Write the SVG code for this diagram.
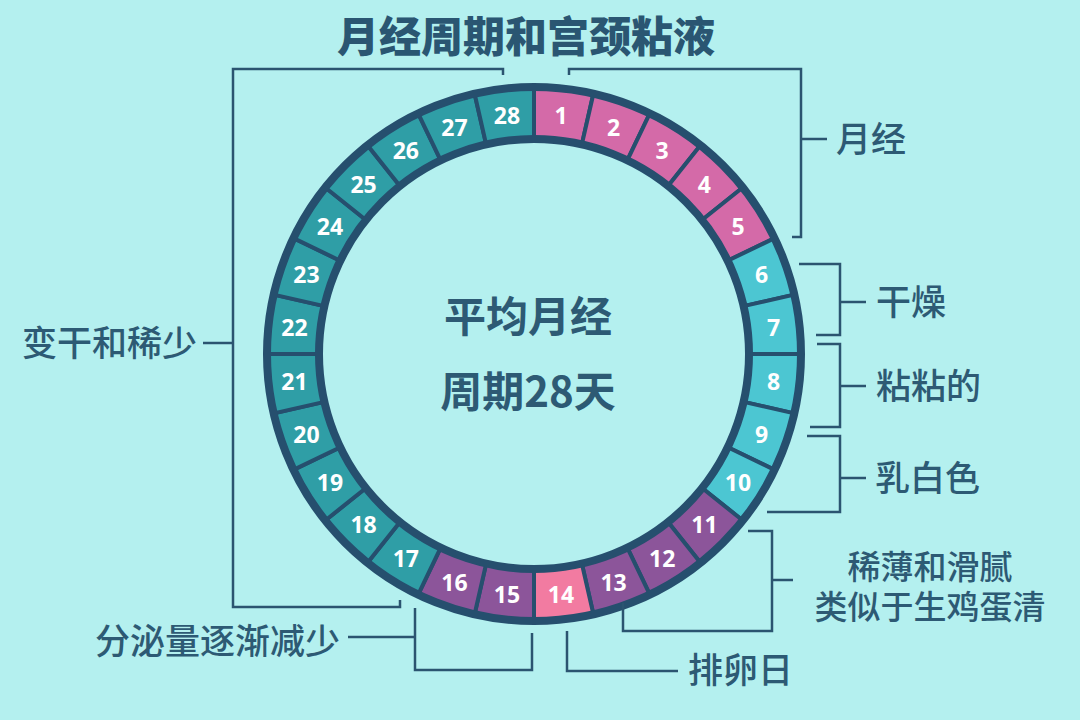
<svg xmlns="http://www.w3.org/2000/svg" width="1080" height="720" viewBox="0 0 1080 720">
<style>
.seg{stroke:#264f6e;stroke-width:4;stroke-linejoin:miter}
.pk{fill:#d46aa8}.cy{fill:#4cc6d2}.pu{fill:#8c559a}.ov{fill:#f27ba1}.tl{fill:#2f9ea6}
.num{font-family:"Open Sans","Noto Sans",sans-serif;font-weight:700;font-size:23px;fill:#ffffff;text-anchor:middle;dominant-baseline:central}
.lbl{font-family:"Noto Sans CJK SC","Noto Sans",sans-serif;font-weight:500;font-size:35px;fill:#2d5a74}
.ctr{font-family:"Noto Sans CJK SC","Noto Sans",sans-serif;font-weight:700;font-size:42px;fill:#2d5a74;text-anchor:middle}
.br{fill:none;stroke:#2b5470;stroke-width:2.5}
.rim{fill:none;stroke:#264f6e;stroke-width:8}
</style>
<rect width="1080" height="720" fill="#b4f0ef"/>
<text id="title" x="526" y="52" text-anchor="middle" style="font-family:'Noto Sans CJK SC','Noto Sans',sans-serif;font-weight:900;font-size:42px;fill:#2a5672">月经周期和宫颈粘液</text>
<g id="ring">
<g id="d1"><path class="seg pk" d="M534,87 A267,267 0 0 1 593.41,93.69 L581.84,144.39 A215,215 0 0 0 534,139 Z"/><text class="num" x="561" y="114.5">1</text></g>
<g id="d2"><path class="seg pk" d="M593.41,93.69 A267,267 0 0 1 649.85,113.44 L627.28,160.29 A215,215 0 0 0 581.84,144.39 Z"/><text class="num" x="613.6" y="126.5">2</text></g>
<g id="d3"><path class="seg pk" d="M649.85,113.44 A267,267 0 0 1 700.47,145.25 L668.05,185.91 A215,215 0 0 0 627.28,160.29 Z"/><text class="num" x="662.2" y="150">3</text></g>
<g id="d4"><path class="seg pk" d="M700.47,145.25 A267,267 0 0 1 742.75,187.53 L702.09,219.95 A215,215 0 0 0 668.05,185.91 Z"/><text class="num" x="704.4" y="183.6">4</text></g>
<g id="d5"><path class="seg pk" d="M742.75,187.53 A267,267 0 0 1 774.56,238.15 L727.71,260.72 A215,215 0 0 0 702.09,219.95 Z"/><text class="num" x="738" y="225.8">5</text></g>
<g id="d6"><path class="seg cy" d="M774.56,238.15 A267,267 0 0 1 794.31,294.59 L743.61,306.16 A215,215 0 0 0 727.71,260.72 Z"/><text class="num" x="761.5" y="274.4">6</text></g>
<g id="d7"><path class="seg cy" d="M794.31,294.59 A267,267 0 0 1 801,354 L749,354 A215,215 0 0 0 743.61,306.16 Z"/><text class="num" x="773.5" y="327">7</text></g>
<g id="d8"><path class="seg cy" d="M801,354 A267,267 0 0 1 794.31,413.41 L743.61,401.84 A215,215 0 0 0 749,354 Z"/><text class="num" x="773.5" y="381">8</text></g>
<g id="d9"><path class="seg cy" d="M794.31,413.41 A267,267 0 0 1 774.56,469.85 L727.71,447.28 A215,215 0 0 0 743.61,401.84 Z"/><text class="num" x="761.5" y="433.6">9</text></g>
<g id="d10"><path class="seg cy" d="M774.56,469.85 A267,267 0 0 1 742.75,520.47 L702.09,488.05 A215,215 0 0 0 727.71,447.28 Z"/><text class="num" x="738" y="482.2">10</text></g>
<g id="d11"><path class="seg pu" d="M742.75,520.47 A267,267 0 0 1 700.47,562.75 L668.05,522.09 A215,215 0 0 0 702.09,488.05 Z"/><text class="num" x="704.4" y="524.4">11</text></g>
<g id="d12"><path class="seg pu" d="M700.47,562.75 A267,267 0 0 1 649.85,594.56 L627.28,547.71 A215,215 0 0 0 668.05,522.09 Z"/><text class="num" x="662.2" y="558">12</text></g>
<g id="d13"><path class="seg pu" d="M649.85,594.56 A267,267 0 0 1 593.41,614.31 L581.84,563.61 A215,215 0 0 0 627.28,547.71 Z"/><text class="num" x="613.6" y="581.5">13</text></g>
<g id="d14"><path class="seg ov" d="M593.41,614.31 A267,267 0 0 1 534,621 L534,569 A215,215 0 0 0 581.84,563.61 Z"/><text class="num" x="561" y="593.5">14</text></g>
<g id="d15"><path class="seg pu" d="M534,621 A267,267 0 0 1 474.59,614.31 L486.16,563.61 A215,215 0 0 0 534,569 Z"/><text class="num" x="507" y="593.5">15</text></g>
<g id="d16"><path class="seg pu" d="M474.59,614.31 A267,267 0 0 1 418.15,594.56 L440.72,547.71 A215,215 0 0 0 486.16,563.61 Z"/><text class="num" x="454.4" y="581.5">16</text></g>
<g id="d17"><path class="seg tl" d="M418.15,594.56 A267,267 0 0 1 367.53,562.75 L399.95,522.09 A215,215 0 0 0 440.72,547.71 Z"/><text class="num" x="405.8" y="558">17</text></g>
<g id="d18"><path class="seg tl" d="M367.53,562.75 A267,267 0 0 1 325.25,520.47 L365.91,488.05 A215,215 0 0 0 399.95,522.09 Z"/><text class="num" x="363.6" y="524.4">18</text></g>
<g id="d19"><path class="seg tl" d="M325.25,520.47 A267,267 0 0 1 293.44,469.85 L340.29,447.28 A215,215 0 0 0 365.91,488.05 Z"/><text class="num" x="330" y="482.2">19</text></g>
<g id="d20"><path class="seg tl" d="M293.44,469.85 A267,267 0 0 1 273.69,413.41 L324.39,401.84 A215,215 0 0 0 340.29,447.28 Z"/><text class="num" x="306.5" y="433.6">20</text></g>
<g id="d21"><path class="seg tl" d="M273.69,413.41 A267,267 0 0 1 267,354 L319,354 A215,215 0 0 0 324.39,401.84 Z"/><text class="num" x="294.5" y="381">21</text></g>
<g id="d22"><path class="seg tl" d="M267,354 A267,267 0 0 1 273.69,294.59 L324.39,306.16 A215,215 0 0 0 319,354 Z"/><text class="num" x="294.5" y="327">22</text></g>
<g id="d23"><path class="seg tl" d="M273.69,294.59 A267,267 0 0 1 293.44,238.15 L340.29,260.72 A215,215 0 0 0 324.39,306.16 Z"/><text class="num" x="306.5" y="274.4">23</text></g>
<g id="d24"><path class="seg tl" d="M293.44,238.15 A267,267 0 0 1 325.25,187.53 L365.91,219.95 A215,215 0 0 0 340.29,260.72 Z"/><text class="num" x="330" y="225.8">24</text></g>
<g id="d25"><path class="seg tl" d="M325.25,187.53 A267,267 0 0 1 367.53,145.25 L399.95,185.91 A215,215 0 0 0 365.91,219.95 Z"/><text class="num" x="363.6" y="183.6">25</text></g>
<g id="d26"><path class="seg tl" d="M367.53,145.25 A267,267 0 0 1 418.15,113.44 L440.72,160.29 A215,215 0 0 0 399.95,185.91 Z"/><text class="num" x="405.8" y="150">26</text></g>
<g id="d27"><path class="seg tl" d="M418.15,113.44 A267,267 0 0 1 474.59,93.69 L486.16,144.39 A215,215 0 0 0 440.72,160.29 Z"/><text class="num" x="454.4" y="126.5">27</text></g>
<g id="d28"><path class="seg tl" d="M474.59,93.69 A267,267 0 0 1 534,87 L534,139 A215,215 0 0 0 486.16,144.39 Z"/><text class="num" x="507" y="114.5">28</text></g>
<circle class="rim" cx="534" cy="354" r="267"/>
<circle class="rim" cx="534" cy="354" r="215"/>
</g>
<g id="center">
<text class="ctr" x="528" y="332">平均月经</text>
<text class="ctr" x="528" y="407">周期28天</text>
</g>
<g id="connectors">
<polyline class="br" points="503,75 503,69 233,69 233,607 400,607 400,600"/>
<line class="br" x1="203" y1="343" x2="233" y2="343"/>
<polyline class="br" points="569,75 569,69 801,69 801,237 792,237"/>
<line class="br" x1="801" y1="139" x2="827" y2="139"/>
<polyline class="br" points="799,264 840,264 840,335 816,335"/>
<line class="br" x1="840" y1="302" x2="866" y2="302"/>
<polyline class="br" points="817,344 840,344 840,427 810,427"/>
<line class="br" x1="840" y1="386" x2="866" y2="386"/>
<polyline class="br" points="807,436 840,436 840,512 767,512"/>
<line class="br" x1="840" y1="478" x2="866" y2="478"/>
<polyline class="br" points="748,531 772,531 772,631 623,631 623,603"/>
<line class="br" x1="772" y1="580" x2="793" y2="580"/>
<polyline class="br" points="567,631 567,671 678,671"/>
<polyline class="br" points="415,608 415,670 532,670 532,633"/>
<line class="br" x1="348" y1="637" x2="415" y2="637"/>
</g>
<g id="labels">
<text id="l-menses" class="lbl" x="836" y="152">月经</text>
<text id="l-dry" class="lbl" x="876" y="315">干燥</text>
<text id="l-sticky" class="lbl" x="876" y="399">粘粘的</text>
<text id="l-milky" class="lbl" x="875" y="491">乳白色</text>
<text id="l-slip" class="lbl" x="930" y="579" text-anchor="middle" style="font-size:33px">稀薄和滑腻</text>
<text id="l-egg" class="lbl" x="930" y="619" text-anchor="middle" style="font-size:33px">类似于生鸡蛋清</text>
<text id="l-ovu" class="lbl" x="688" y="683">排卵日</text>
<text id="l-dryless" class="lbl" x="22" y="356">变干和稀少</text>
<text id="l-less" class="lbl" x="95" y="654">分泌量逐渐减少</text>
</g>
</svg>
